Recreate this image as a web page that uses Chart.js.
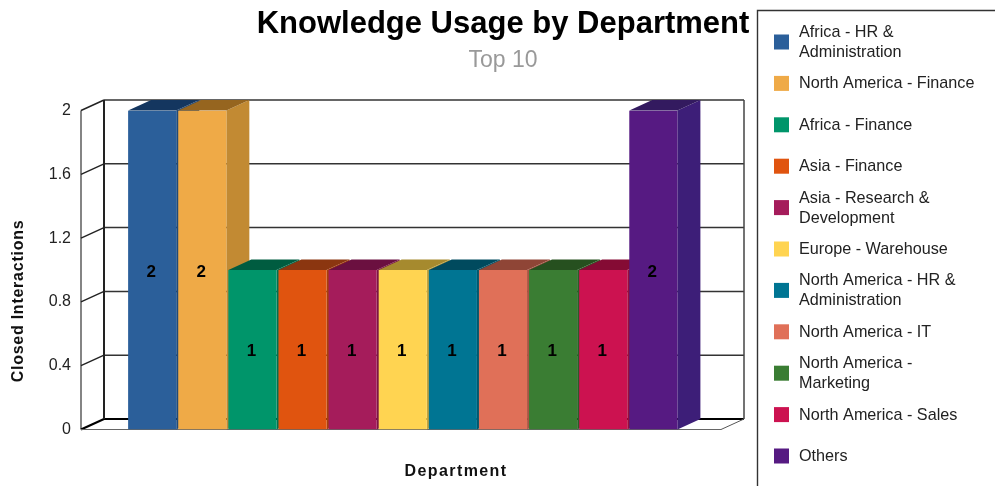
<!DOCTYPE html>
<html><head><meta charset="utf-8">
<style>html,body{margin:0;padding:0;background:#fff;overflow:hidden}#w{position:relative;width:995px;height:486px}</style>
<script src="https://cdn.jsdelivr.net/npm/chart.js@4"></script></head>
<body><div id="w"><canvas id="c" width="995" height="486"></canvas></div>
<script>
const categories = [
  "Africa - HR & Administration","North America - Finance","Africa - Finance","Asia - Finance",
  "Asia - Research & Development","Europe - Warehouse","North America - HR & Administration",
  "North America - IT","North America - Marketing","North America - Sales","Others"];
const legendLines = [
  ["Africa - HR &","Administration"],["North America - Finance"],["Africa - Finance"],["Asia - Finance"],
  ["Asia - Research &","Development"],["Europe - Warehouse"],["North America - HR &","Administration"],
  ["North America - IT"],["North America -","Marketing"],["North America - Sales"],["Others"]];
const values = [2,2,1,1,1,1,1,1,1,1,2];
const frontColors = ["#2b5f9a","#efaa47","#00956a","#e0540f","#a51c5b","#ffd451","#007593","#e07058","#3a7d33","#cc1250","#561a82"];
const topColors   = ["#14365f","#96651f","#005c40","#8b3610","#6b1040","#a68a2e","#004a5e","#8f4536","#26501f","#850b34","#331a5f"];
const sideColors  = ["#204a7a","#c28a33","#00704f","#a93f0b","#7c1545","#c4a33d","#00586e","#a85443","#2c5e26","#990e3c","#3d1e78"];
const titleText = "Knowledge Usage by Department";
const subtitleText = "Top 10";
const yTicks = [0,0.4,0.8,1.2,1.6,2];
const yTitle = "Closed Interactions";
const xTitle = "Department";

const DX = 23, DY = 10.5;

const frame3d = {
  id:'frame3d',
  beforeDatasetsDraw(chart){
    const {ctx, chartArea:a, scales:{y}} = chart;
    ctx.save();
    const line=(x1,y1,x2,y2,w,col)=>{ctx.lineWidth=w;ctx.strokeStyle=col;ctx.beginPath();ctx.moveTo(x1,y1);ctx.lineTo(x2,y2);ctx.stroke();};
    line(a.left,a.top,a.left,a.bottom,1.2,'#333');
    yTicks.forEach(t=>{
      const py=y.getPixelForValue(t);
      const zero=t===0;
      line(a.left,py,a.left+DX,py-DY,zero?2.2:1.4,zero?'#000':'#222');
      line(a.left+DX,py-DY,a.right+DX,py-DY,zero?2.2:1.5,zero?'#000':'#333');
    });
    line(a.left+DX,a.top-DY,a.left+DX,a.bottom-DY,2,'#222');
    line(a.right+DX,a.top-DY,a.right+DX,a.bottom-DY,1.5,'#444');
    line(a.left,a.bottom,a.right,a.bottom,1,'#666');
    line(a.right,a.bottom,a.right+DX,a.bottom-DY,1,'#555');
    // bar depth faces, left to right, so each front covers the previous side
    const meta=chart.getDatasetMeta(0);
    meta.data.forEach((b,i)=>{
      const hw=b.width/2, L=b.x-hw, R=b.x+hw, T=b.y, B=b.base;
      ctx.fillStyle=sideColors[i];
      ctx.beginPath();ctx.moveTo(R,T);ctx.lineTo(R+DX,T-DY);ctx.lineTo(R+DX,B-DY);ctx.lineTo(R,B);ctx.closePath();ctx.fill();
      ctx.fillStyle=topColors[i];
      ctx.beginPath();ctx.moveTo(L,T);ctx.lineTo(L+DX,T-DY);ctx.lineTo(R+DX,T-DY);ctx.lineTo(R,T);ctx.closePath();ctx.fill();
    });
    ctx.restore();
  },
  afterDatasetsDraw(chart){
    const {ctx, scales:{y}} = chart;
    const meta=chart.getDatasetMeta(0);
    ctx.save();
    ctx.fillStyle='#000';ctx.font='bold 17px "Liberation Sans"';ctx.textAlign='center';ctx.textBaseline='middle';
    meta.data.forEach((b,i)=>{ctx.fillText(String(values[i]),b.x-1,y.getPixelForValue(values[i]/2)+2);});
    ctx.restore();
  },
  afterDraw(chart){
    const {ctx}=chart;
    ctx.save();
    // axis titles
    ctx.fillStyle='#111';ctx.font='bold 16px "Liberation Sans"';ctx.textAlign='center';ctx.textBaseline='middle';
    ctx.letterSpacing='1.4px';
    ctx.fillText(xTitle,456,472);
    ctx.letterSpacing='0.75px';
    ctx.save();ctx.translate(19,301);ctx.rotate(-Math.PI/2);ctx.fillText(yTitle,0,0);ctx.restore();
    ctx.letterSpacing='0px';
    // legend
    ctx.strokeStyle='#333';ctx.lineWidth=1.4;
    ctx.beginPath();ctx.moveTo(995,10.5);ctx.lineTo(757.5,10.5);ctx.lineTo(757.5,486);ctx.stroke();
    ctx.font='16.2px "Liberation Sans"';ctx.textBaseline='middle';ctx.textAlign='left';
    legendLines.forEach((ls,i)=>{
      const cy=42+41.4*i;
      ctx.fillStyle=frontColors[i];ctx.fillRect(774,cy-7.5,15,15);
      ctx.fillStyle='#222';
      const top=cy-(ls.length-1)*10;
      ls.forEach((t,j)=>ctx.fillText(t,799,top+j*20+0.5));
    });
    ctx.restore();
  }
};

new Chart(document.getElementById('c'),{
  type:'bar',
  data:{datasets:[{
    data:values.map((v,i)=>({x:i,y:v})),
    backgroundColor:frontColors,borderWidth:0,
    barPercentage:0.96,categoryPercentage:1
  }]},
  options:{
    responsive:false,animation:false,
    layout:{padding:{left:11,top:0,right:0,bottom:0}},
    plugins:{
      legend:{display:false},tooltip:{enabled:false},
      title:{display:true,text:titleText,color:'#000',font:{family:'"Liberation Sans"',size:31,weight:'bold',lineHeight:1.2},padding:{top:6,bottom:1}},
      subtitle:{display:true,text:subtitleText,color:'#999',font:{family:'"Liberation Sans"',size:23,weight:'normal',lineHeight:1.2},padding:{top:3,bottom:35.7}}
    },
    scales:{
      x:{type:'linear',offset:false,min:-1.42,max:11.35,grid:{display:false},border:{display:false},
         ticks:{display:false},afterFit(s){s.height=56.5;}},
      y:{min:0,max:2,grid:{display:false},border:{display:false},
         afterBuildTicks(s){s.ticks=yTicks.map(v=>({value:v}));},
         ticks:{color:'#222',font:{family:'"Liberation Sans"',size:16},padding:2,callback:v=>String(v)},
         afterFit(s){s.width=70;}},
      gutter:{position:'right',display:true,grid:{display:false},border:{display:false},ticks:{display:false},afterFit(s){s.width=274;}}
    }
  },
  plugins:[frame3d]
});
</script></body></html>
